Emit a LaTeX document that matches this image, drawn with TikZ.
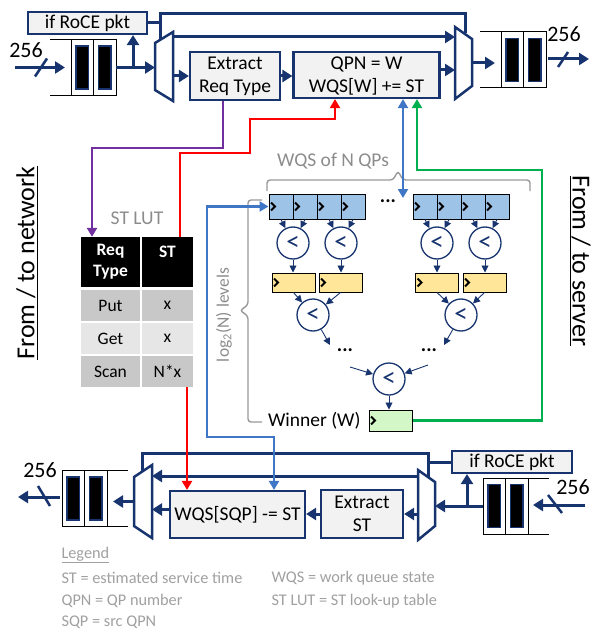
\documentclass[tikz,border=0pt]{standalone}
\usepackage{fontspec}
\setmainfont{Carlito}
\usetikzlibrary{arrows.meta,calc}
\definecolor{navy}{HTML}{17346E}
\definecolor{boxfill}{HTML}{F2F2F2}
\definecolor{qblue}{HTML}{9DC3E6}
\definecolor{yel}{HTML}{FFE699}
\definecolor{wgreen}{HTML}{D3F7C6}
\definecolor{lred}{HTML}{FF0000}
\definecolor{lpurple}{HTML}{7030A0}
\definecolor{lblue}{HTML}{3F76C6}
\definecolor{lgreen}{HTML}{00B050}
\definecolor{txtgray}{HTML}{8C8C8C}
\definecolor{leggray}{HTML}{A0A0A0}
\definecolor{bracegray}{HTML}{999999}
\definecolor{darkcell}{HTML}{C8C8C8}
\definecolor{lightcell}{HTML}{E6E6E6}
\tikzset{
  regline/.style={draw=black, line width=1pt},
  bar/.style={fill=black, draw=navy, line width=1.8pt},
  pics/regL/.style={code={
    \draw[regline] (-43.5,-28) -- (22.5,-28) -- (22.5,28) -- (-43.5,28);
    \draw[regline] (-22.5,-28) -- (-22.5,28) (0,-28) -- (0,28);
    \draw[bar] (-17.5,-21.5) rectangle (-5,21.5);
    \draw[bar] (5,-21.5) rectangle (17.5,21.5);
    \node[inner sep=0pt, minimum width=45pt, minimum height=56pt] (-box) at (0,0) {};
  }},
  pics/regR/.style={code={
    \draw[regline] (43.5,-28) -- (-22.5,-28) -- (-22.5,28) -- (43.5,28);
    \draw[regline] (22.5,-28) -- (22.5,28) (0,-28) -- (0,28);
    \draw[bar] (-17.5,-21.5) rectangle (-5,21.5);
    \draw[bar] (5,-21.5) rectangle (17.5,21.5);
    \node[inner sep=0pt, minimum width=45pt, minimum height=56pt] (-box) at (0,0) {};
  }},
  box/.style={draw=navy, line width=2.2pt, fill=boxfill, inner sep=0pt, align=center},
  bus/.style={draw=navy, line width=3pt},
  busarr/.style={bus, -{Triangle[length=10pt,width=12pt]}},
  muxnode/.style={inner sep=0pt, outer sep=0pt},
  muxdraw/.style={draw=navy, line width=2.5pt, fill=white, line join=miter},
  slashline/.style={draw=navy, line width=2.5pt},
  bignum/.style={font=\fontsize{22}{24}\selectfont},
  clr/.style={line width=2.5pt, -{Triangle[length=9pt,width=10pt]}},
  cell/.style={inner sep=0pt, align=center, font=\fontsize{17.5}{21}\selectfont},
  qcell/.style={draw=black, line width=1pt, fill=qblue, minimum width=24pt, minimum height=25pt, inner sep=0pt},
  ycell/.style={draw=black, line width=1pt, fill=yel, minimum width=43pt, minimum height=19pt, inner sep=0pt},
  cmp/.style={circle, draw=navy, line width=1.3pt, minimum size=32pt, inner sep=0pt, fill=white, text=navy, font=\fontsize{27}{27}\selectfont},
  tarr/.style={draw=navy, line width=0.9pt, -{Triangle[length=7pt,width=7pt]}},
  clk/.style={draw=black, line width=1.8pt},
  gbrace/.style={draw=bracegray, line width=1.4pt, rounded corners=3pt},
  graytxt/.style={text=txtgray},
  legtxt/.style={text=leggray, anchor=west, font=\fontsize{16.3}{19}\selectfont},
  sidetxt/.style={font=\fontsize{26}{28}\selectfont},
  dotstxt/.style={font=\fontsize{20}{20}\selectfont\bfseries},
}
\begin{document}
\begin{tikzpicture}[x=1pt, y=-1pt, font=\fontsize{19.5}{23}\selectfont]
\useasboundingbox (0,0) rectangle (592,631);

% ---------------- top section ----------------
\pic (regA) at (93.5,67.5) {regL};
\pic (regB) at (523.5,60) {regL};
\node[box, minimum width=119pt, minimum height=22pt] (roceA) at (87.5,23) {if RoCE pkt};
\node[box, minimum width=90pt, minimum height=48pt] (ERT) at (235,76) {Extract\\Req Type};
\node[box, minimum width=146pt, minimum height=46pt, text depth=0pt] (QPN) at (366.5,75) {QPN = W\\WQS[W] += ST};

\node[muxnode, minimum width=18pt, minimum height=69pt] (muxA) at (164,66.5) {};
\node[muxnode, minimum width=17pt, minimum height=72pt] (muxB) at (463.5,63) {};

\coordinate (inA) at (15,67.5);
\coordinate (inAend) at (65,67.5);
\coordinate (brA) at (133,67.5);
\coordinate (selA) at (160,14);
\coordinate (selAm) at (160,40);
\coordinate (selB) at (465,14);
\coordinate (selBm) at (465,33.5);
\coordinate (byA) at (173,37);
\coordinate (regBin) at (495,63);
\coordinate (outB) at (589,59);
\coordinate (qpnOut) at ($(QPN.east)+(0,-5)$);

% select lines
\draw[bus] (roceA.east) -- (roceA.east -| selA);
\draw[bus, line join=miter] (selAm) -- (selA) -- (selB) -- (selBm);
% bypass
\draw[busarr] (byA) -- (byA -| muxB.west);

% muxes
\draw[muxdraw] ($(muxA.north west)+(0,11)$) -- (muxA.north east) -- (muxA.south east) -- ($(muxA.south west)+(0,-11)$) -- cycle;
\draw[muxdraw] (muxB.north west) -- ($(muxB.north east)+(0,12)$) -- ($(muxB.south east)+(0,-13)$) -- (muxB.south west) -- cycle;

% data path
\draw[busarr] (inA) -- (inAend);
\draw[slashline] ($(inA)+(20,9)$) -- ($(inA)+(32,-9)$);
\node[bignum] (n256a) at (26,50) {256};
\draw[busarr] (regA-box.east) -- (regA-box.east -| muxA.west);
\draw[busarr] (brA) -- (brA |- roceA.south);
\draw[busarr] (ERT.west -| muxA.east) -- (ERT.west);
\draw[busarr] (ERT.east) -- (ERT.east -| QPN.west);
\draw[busarr] (qpnOut) -- (qpnOut -| muxB.west);
\draw[busarr] (muxB.east) -- (regBin);
\draw[busarr] ($(regB-box.east)+(2,-1)$) -- (outB);
\draw[slashline] ($(outB)+(-31,8)$) -- ($(outB)+(-21,-7)$);
\node[bignum] (n256b) at (564,34) {256};

% ---------------- ST LUT ----------------
\node[graytxt] (lutt) at (137,218) {ST LUT};
\node[cell, fill=black, text=white, font=\fontsize{17.5}{21}\selectfont\bfseries, minimum width=59pt, minimum height=50pt] (th1) at (110.5,262) {Req\\Type};
\node[cell, fill=black, text=white, font=\fontsize{17.5}{21}\selectfont\bfseries, minimum width=51pt, minimum height=50pt] (th2) at (167.5,262) {ST\\\mbox{}};
\node[cell, fill=darkcell, minimum width=59pt, minimum height=31pt] (p1) at (110.5,305.5) {Put};
\node[cell, fill=darkcell, minimum width=51pt, minimum height=31pt] (p2) at (167.5,305.5) {x};
\node[cell, fill=lightcell, minimum width=59pt, minimum height=31pt] (g1) at (110.5,338.5) {Get};
\node[cell, fill=lightcell, minimum width=51pt, minimum height=31pt] (g2) at (167.5,338.5) {x};
\node[cell, fill=darkcell, minimum width=59pt, minimum height=31pt] (s1) at (110.5,371.5) {Scan};
\node[cell, fill=darkcell, minimum width=51pt, minimum height=31pt] (s2) at (167.5,371.5) {N*x};

% ---------------- tree ----------------
\node[qcell] (q1) at (281,206.5) {};
\node[qcell] (q2) at (305,206.5) {};
\node[qcell] (q3) at (329,206.5) {};
\node[qcell] (q4) at (353,206.5) {};
\node[qcell] (q5) at (425,206.5) {};
\node[qcell] (q6) at (449,206.5) {};
\node[qcell] (q7) at (473,206.5) {};
\node[qcell] (q8) at (497,206.5) {};
\node[dotstxt] (qdots) at (388,201) {...};

\node[cmp] (c1) at (293,243) {<};
\node[cmp] (c2) at (341,243) {<};
\node[cmp] (c3) at (437,243) {<};
\node[cmp] (c4) at (485,243) {<};

\node[ycell] (y1) at (293.5,282.5) {};
\node[ycell] (y2) at (340.5,282.5) {};
\node[ycell] (y3) at (437,282.5) {};
\node[ycell] (y4) at (484.5,282.5) {};

\node[cmp] (d1) at (313,315) {<};
\node[cmp] (d2) at (461,315) {<};
\node[cmp] (e1) at (389,379) {<};
\node[draw=black, line width=1pt, fill=wgreen, minimum width=43pt, minimum height=21pt, inner sep=0pt] (win) at (390.5,420.5) {};
\node[anchor=east] (wintxt) at (364,420.5) {Winner (W)};

\foreach \n in {q1,q2,q3,q4,q5,q6,q7,q8,y1,y2,y3,y4,win}
  \draw[clk] ($(\n.west)+(2.5,-4)$) -- ++(4,4) -- ++(-4,4);

\draw[tarr] (q1.south) -- (c1);
\draw[tarr] (q2.south) -- (c1);
\draw[tarr] (q3.south) -- (c2);
\draw[tarr] (q4.south) -- (c2);
\draw[tarr] (q5.south) -- (c3);
\draw[tarr] (q6.south) -- (c3);
\draw[tarr] (q7.south) -- (c4);
\draw[tarr] (q8.south) -- (c4);
\draw[tarr] (c1.south) -- (c1.south |- y1.north);
\draw[tarr] (c2.south) -- (c2.south |- y2.north);
\draw[tarr] (c3.south) -- (c3.south |- y3.north);
\draw[tarr] (c4.south) -- (c4.south |- y4.north);
\draw[tarr] (y1.south) -- (d1);
\draw[tarr] (y2.south) -- (d1);
\draw[tarr] (y3.south) -- (d2);
\draw[tarr] (y4.south) -- (d2);
\coordinate (dd1) at (330,345);
\coordinate (dd2) at (444,345);
\draw[tarr] (d1) -- (dd1);
\draw[tarr] (d2) -- (dd2);
\node[dotstxt] (dots1) at (345,350) {...};
\node[dotstxt] (dots2) at (429,350) {...};
\coordinate (ee1) at (350,367);
\coordinate (ee2) at (428,365);
\draw[tarr] (ee1) -- (e1);
\draw[tarr] (ee2) -- (e1);
\draw[tarr] (e1.south) -- (e1.south |- win.north);

% braces
\draw[gbrace] (267,191) -- (267,180) -- (393,180) -- (398,171) -- (403,180) -- (530,180) -- (530,191);
\node[graytxt] (wqst) at (333,161) {WQS of N QPs};
\draw[gbrace] (262,200) -- (248,200) -- (248,305) -- (240,310.5) -- (248,316) -- (248,422) -- (262,422);
\node[graytxt, rotate=90, font=\fontsize{17.5}{20}\selectfont] (levt) at (224,315) {log\textsubscript{2}(N) levels};

% side labels
\node[sidetxt, rotate=90] (netw) at (27,263) {\underline{From / to network}};
\node[sidetxt, rotate=-90] (serv) at (580,261) {\underline{From / to server}};

% ---------------- bottom section ----------------
\pic (regC) at (84.5,498.5) {regR};
\pic (regD) at (505.5,506) {regR};
\node[box, minimum width=120pt, minimum height=22pt] (roceB) at (512,462) {if RoCE pkt};
\node[box, minimum width=82pt, minimum height=48pt] (ExST) at (362,514) {Extract\\ST};
\node[box, minimum width=135pt, minimum height=47pt] (WQS2) at (237.5,514.5) {WQS[SQP] -= ST};
\node[muxnode, minimum width=18pt, minimum height=73pt] (muxC) at (143,501.5) {};
\node[muxnode, minimum width=17pt, minimum height=70pt] (muxD) at (426.5,505) {};

\coordinate (inD) at (585,505);
\coordinate (inDend) at (533,505);
\coordinate (brD) at (467,506);
\coordinate (selD) at (428,453);
\coordinate (selDm) at (428,477);
\coordinate (selC) at (142,453);
\coordinate (selCm) at (142,472);
\coordinate (byD) at (418,476);
\coordinate (regCin) at (113,501.5);
\coordinate (outC) at (18,497);
\coordinate (wqsOut) at ($(WQS2.west)+(0,-5)$);
\coordinate (regCout) at ($(regC-box.west)+(-2,-1.5)$);

\draw[bus] (roceB.west) -- (roceB.west -| selD);
\draw[bus, line join=miter] (selDm) -- (selD) -- (selC) -- (selCm);
\draw[busarr] (byD) -- (byD -| muxC.east);

\draw[muxdraw] ($(muxC.north west)+(0,12)$) -- (muxC.north east) -- (muxC.south east) -- ($(muxC.south west)+(0,-12)$) -- cycle;
\draw[muxdraw] (muxD.north west) -- ($(muxD.north east)+(0,12)$) -- ($(muxD.south east)+(0,-14)$) -- (muxD.south west) -- cycle;

\draw[busarr] (inD) -- (inDend);
\draw[slashline] ($(inD)+(-37,-10)$) -- ($(inD)+(-23,8)$);
\node[bignum] (n256d) at (573,487) {256};
\draw[busarr] (regD-box.west) -- (regD-box.west -| muxD.east);
\draw[busarr] (brD) -- (brD |- roceB.south);
\draw[busarr] (ExST.east -| muxD.west) -- (ExST.east);
\draw[busarr] (ExST.west) -- (ExST.west -| WQS2.east);
\draw[busarr] (wqsOut) -- (wqsOut -| muxC.east);
\draw[busarr] (muxC.west) -- (regCin);
\draw[busarr] (regCout) -- (outC);
\draw[slashline] ($(outC)+(20,-11)$) -- ($(outC)+(32,9)$);
\node[bignum] (n256c) at (40,470) {256};

% ---------------- coloured connectors ----------------
\coordinate (pS) at ($(ERT.south)+(-12,0)$);
\coordinate (pA) at (92,148);
\draw[clr, draw=lpurple, color=lpurple] (pS) |- (pA) -- (pA |- th1.north);
\coordinate (rS) at ($(th2.north)+(12.5,0)$);
\coordinate (rA) at (250,153);
\coordinate (rB) at (335,119);
\draw[clr, draw=lred, color=lred] (rS) |- (rA) |- (rB) -- (rB |- QPN.south);
\coordinate (r2S) at ($(s2.south)+(19.5,0)$);
\draw[clr, draw=lred, color=lred] (r2S) -- (r2S |- WQS2.north);
\coordinate (bS) at ($(QPN.south)+(36.5,0)$);
\coordinate (bq) at (403,198);
\draw[draw=lblue, color=lblue, line width=2.5pt, {Triangle[length=9pt,width=10pt]}-{Triangle[length=9pt,width=10pt]}] (bS) -- (bq);
\coordinate (gA) at (542,170);
\coordinate (gB) at (417,170);
\draw[clr, draw=lgreen, color=lgreen] (win.east) -| (gA) -- (gB) -- (gB |- QPN.south);
\coordinate (bA) at (207,437);
\coordinate (bE) at ($(WQS2.north)+(36.5,0)$);
\draw[draw=lblue, color=lblue, line width=2.5pt, {Triangle[length=9pt,width=10pt]}-{Triangle[length=9pt,width=10pt]}] (q1.west) -| (bA) -| (bE);

% ---------------- legend ----------------
\node[legtxt] (lg0) at (58,555) {\underline{Legend}};
\node[legtxt] (lg1) at (58,578) {ST = estimated service time};
\node[legtxt] (lg2) at (58,601) {QPN = QP number};
\node[legtxt] (lg3) at (58,622) {SQP = src QPN};
\node[legtxt] (lg4) at (268,578) {WQS = work queue state};
\node[legtxt] (lg5) at (268,601) {ST LUT = ST look-up table};
\end{tikzpicture}
\end{document}
